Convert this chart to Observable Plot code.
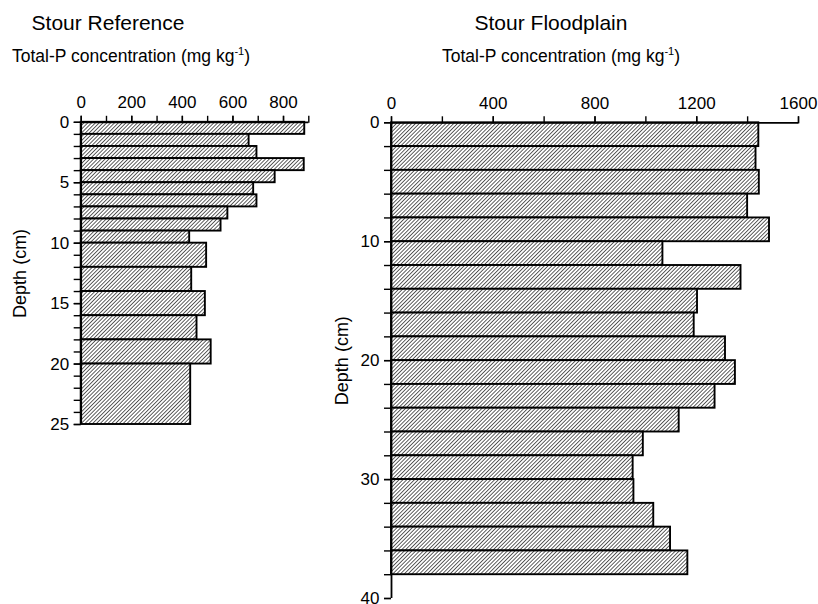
<!DOCTYPE html>
<html>
<head>
<meta charset="utf-8">
<script src="https://cdn.jsdelivr.net/npm/d3@7"></script>
<script src="https://cdn.jsdelivr.net/npm/@observablehq/plot@0.6"></script>
<style>
  html, body { margin: 0; padding: 0; background: #fff; }
  #wrap { position: relative; width: 818px; height: 604px; overflow: hidden; font-family: "Liberation Sans", Arial, sans-serif; color: #000; }
  #wrap svg { position: absolute; left: 0; top: 0; }
  .t { position: absolute; white-space: nowrap; transform: translateX(-50%); line-height: 1; }
  .title { font-size: 21px; }
  .sub { font-size: 17.5px; }
  .sub sup { font-size: 11px; vertical-align: 7px; line-height: 0; }
</style>
</head>
<body>
<div id="wrap">
  <div class="t title" style="left:108px; top:12px;">Stour Reference</div>
  <div class="t sub" style="left:131px; top:48px;">Total-P concentration (mg kg<sup>-1</sup>)</div>
  <div class="t title" style="left:551px; top:12px;">Stour Floodplain</div>
  <div class="t sub" style="left:561px; top:48px;">Total-P concentration (mg kg<sup>-1</sup>)</div>
</div>
<script>
// Stour Reference: depth intervals (cm) and Total-P (mg/kg)
const refTop    = [0, 1, 2, 3, 4, 5, 6, 7, 8, 9, 10, 12, 14, 16, 18, 20];
const refBottom = [1, 2, 3, 4, 5, 6, 7, 8, 9, 10, 12, 14, 16, 18, 20, 25];
const refValue  = [884, 664, 695, 882, 767, 682, 695, 580, 553, 429, 496, 437, 491, 458, 514, 433];
const refXTicks = [0, 200, 400, 600, 800];
const refYTicks = [0, 5, 10, 15, 20, 25];

// Stour Floodplain
const fpTop    = [0, 2, 4, 6, 8, 10, 12, 14, 16, 18, 20, 22, 24, 26, 28, 30, 32, 34, 36];
const fpBottom = [2, 4, 6, 8, 10, 12, 14, 16, 18, 20, 22, 24, 26, 28, 30, 32, 34, 36, 38];
const fpValue  = [1444, 1433, 1446, 1400, 1486, 1067, 1374, 1203, 1190, 1313, 1352, 1272, 1131, 990, 950, 953, 1031, 1097, 1165];
const fpXTicks = [0, 400, 800, 1200, 1600];
const fpYTicks = [0, 10, 20, 30, 40];

const refData = refTop.map((t, i) => ({top: t, bottom: refBottom[i], value: refValue[i]}));
const fpData = fpTop.map((t, i) => ({top: t, bottom: fpBottom[i], value: fpValue[i]}));

const W = 818, H = 604;
const FONT = "Liberation Sans, Arial, sans-serif";
const fmt = d => String(d);

function panel({data, xMax, xTicks, xMinor, yMax, yTicks, yMinor, left, right, top, bottom, labelOffset}) {
  const svg = Plot.plot({
    width: W, height: H,
    marginLeft: left, marginRight: W - right, marginTop: top, marginBottom: H - bottom,
    style: {fontFamily: FONT, fontSize: "17px", background: "transparent", overflow: "visible"},
    x: {domain: [0, xMax], axis: null, label: null},
    y: {domain: [0, yMax], reverse: true, axis: null, label: null},
    marks: [
      Plot.rectX(data, {x1: 0, x2: "value", y1: "top", y2: "bottom", fill: "url(#hatch)", stroke: "black", strokeWidth: 1.9}),
      Plot.axisX({anchor: "top", ticks: xMinor, tickSize: 7, tickFormat: () => "", strokeWidth: 1.4, label: null}),
      Plot.axisX({anchor: "top", ticks: xTicks, tickSize: 7, tickPadding: 7, tickFormat: fmt, strokeWidth: 1.4, fontSize: 17, label: null}),
      Plot.ruleY([0], {stroke: "black", strokeWidth: 1.8}),
      Plot.axisY({anchor: "left", ticks: yMinor, tickSize: 7, tickFormat: () => "", strokeWidth: 1.4, label: null}),
      Plot.axisY({anchor: "left", ticks: yTicks, tickSize: 7, tickPadding: 5, tickFormat: fmt, strokeWidth: 1.4, fontSize: 17,
        label: null}),
      Plot.text(["Depth (cm)"], {frameAnchor: "left", dx: -labelOffset, rotate: -90, lineAnchor: "top", textAnchor: "middle", fontSize: 18}),
      Plot.ruleX([0], {y1: 0, y2: yMax, stroke: "black", strokeWidth: 1.8})
    ]
  });
  svg.insertAdjacentHTML("afterbegin",
    `<defs><pattern id="hatch" patternUnits="userSpaceOnUse" width="2.7" height="2.7" patternTransform="rotate(45)">
       <rect width="2.7" height="2.7" fill="white"/>
       <line x1="0" y1="0" x2="0" y2="2.7" stroke="black" stroke-width="1.25"/>
     </pattern></defs>`);
  return svg;
}

const wrap = document.getElementById("wrap");
wrap.appendChild(panel({
  data: refData, xMax: 900, xTicks: refXTicks, xMinor: d3.range(0, 901, 100),
  yMax: 25, yTicks: refYTicks, yMinor: d3.range(0, 26, 1),
  left: 80.7, right: 308.3, top: 121.8, bottom: 424, labelOffset: 68
}));
wrap.appendChild(panel({
  data: fpData, xMax: 1600, xTicks: fpXTicks, xMinor: d3.range(0, 1601, 200),
  yMax: 40, yTicks: fpYTicks, yMinor: d3.range(0, 41, 2),
  left: 391, right: 798, top: 122.3, bottom: 598, labelOffset: 56
}));
</script>
</body>
</html>
